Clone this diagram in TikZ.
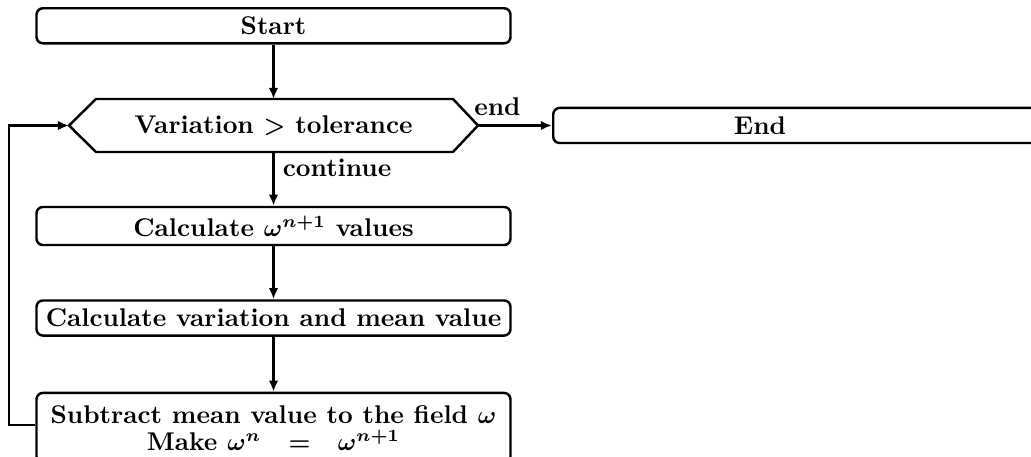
\documentclass[tikz,border=0pt]{standalone}
\usetikzlibrary{arrows.meta}
\begin{document}
\begin{tikzpicture}[x=0.408pt,y=-0.408pt,
  every node/.style={font=\fontsize{10.45}{12.5}\selectfont\bfseries\boldmath},
  box/.style={draw, line width=1pt, rounded corners=2.6pt,
    minimum width=193.4pt, minimum height=14.3pt, inner sep=0pt},
  flow/.style={draw, line width=1pt, -{Latex[length=4.5pt,width=3.8pt]}},
  edgelabel/.style={inner sep=0pt}
]
\clip (0,0) rectangle (1031,457);

% start box
\node[box] (start) at (273.5,25.8) {Start};

% loop test (hexagon)
\node (cond) at (273.5,125.5) {Variation $>$ tolerance};
\coordinate (condW) at (69,125.5);
\coordinate (condE) at (478,125.5);
\coordinate (condN) at (273.5,99);
\coordinate (condS) at (273.5,152);
\draw[line width=1pt, line join=miter]
  (condW) -- (96,99) -- (condN) -- (453,99) -- (condE)
  -- (453,152) -- (condS) -- (96,152) -- cycle;

% end box
\node[box, minimum width=207pt, anchor=west] (endbox) at (552,125.5) {};
\node (endtext) at (760,125.5) {End};

% loop body
\node[box, minimum height=15.5pt] (calc) at (273.5,226) {Calculate $\omega^{n+1}$ values};
\node[box] (var) at (273.5,318) {Calculate variation and mean value};
\node[box, minimum height=28.6pt, align=center] (sub) at (273.5,428)
  {Subtract mean value to the field $\omega$\\[-1.2pt]
   Make $\omega^n\ \ =\ \ \omega^{n+1}$};

% connectors
\draw[flow] (start) -- (condN);
\draw[flow] (condE) -- node[edgelabel, pos=0, anchor=base west, xshift=-2pt, yshift=4.1pt] {end} (endbox.west);
\draw[flow] (condS) -- node[right, pos=0.3] {continue} (calc);
\draw[flow] (calc) -- (var);
\draw[flow] (var) -- (sub);
\draw[flow] (sub.west) ++(0,-3) -- ++(-26,0) |- (condW);
\end{tikzpicture}
\end{document}
